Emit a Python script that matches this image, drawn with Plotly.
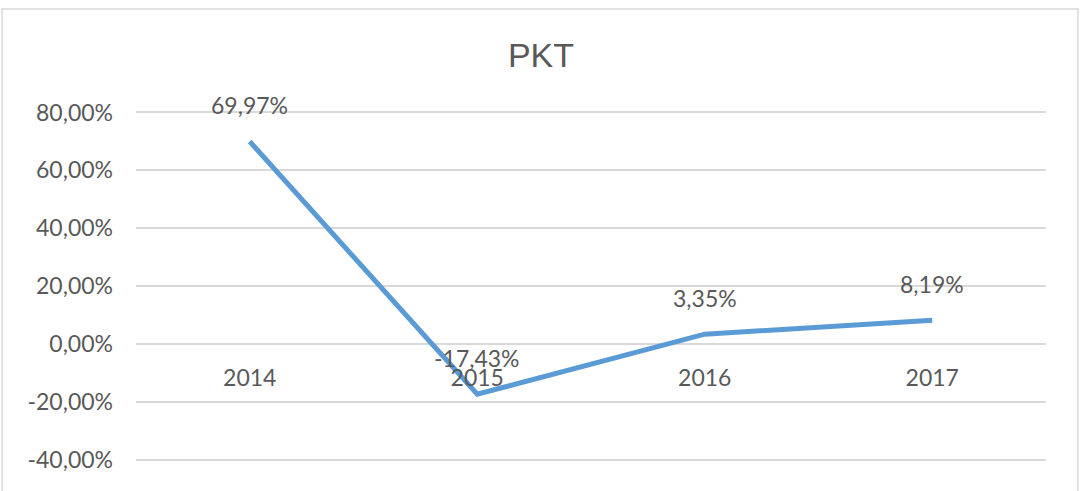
import plotly.graph_objects as go

categories = ["2014", "2015", "2016", "2017"]
values = [69.97, -17.43, 3.35, 8.19]
y_tickvals = [-40, -20, 0, 20, 40, 60, 80]
y_ticktext = ["-40,00%", "-20,00%", "0,00%", "20,00%", "40,00%", "60,00%", "80,00%"]
title_text = "PKT"

label_text = [f"{v:.2f}%".replace(".", ",") for v in values]

TXT = "#595959"
GRID = "#d9d9d9"
FONT = "Lato"

fig = go.Figure()
fig.add_trace(go.Scatter(
    x=categories, y=values, mode="lines",
    line=dict(color="#5b9bd5", width=5),
    hoverinfo="skip",
))

for i, (v, t) in enumerate(zip(values, label_text)):
    fig.add_annotation(x=i, y=v, xref="x", yref="y", text=t, showarrow=False,
                       yshift=36, font=dict(family=FONT, size=23, color=TXT))

fig.update_layout(
    width=1086, height=491,
    margin=dict(l=136, r=40, t=111, b=30),
    paper_bgcolor="white", plot_bgcolor="white",
    showlegend=False,
    title=dict(text=title_text, x=541 / 1086, xanchor="center",
               y=1 - 55 / 491, yanchor="middle",
               font=dict(family="Liberation Sans", size=34, color=TXT)),
    xaxis=dict(
        type="category", range=[-0.5, 3.5],
        anchor="free", position=0.5 / 121 + 40 / 121,
        showgrid=False, showline=False, zeroline=False,
        ticks="", ticklabelstandoff=18,
        tickfont=dict(family=FONT, size=23, color=TXT),
    ),
    yaxis=dict(
        range=[-40.5, 80.5], tickvals=y_tickvals, ticktext=y_ticktext,
        showgrid=True, gridcolor=GRID, gridwidth=1.5,
        zeroline=True, zerolinecolor=GRID, zerolinewidth=1.5,
        showline=False, ticks="", ticklabelstandoff=22,
        tickfont=dict(family=FONT, size=23, color=TXT),
    ),
    shapes=[dict(type="rect", xref="paper", yref="paper",
                 x0=-134 / 910, x1=(1078 - 136) / 910,
                 y0=(461 - 500) / 350, y1=(461 - 9) / 350,
                 line=dict(color="#d9d9d9", width=1.5), layer="below")],
)

fig.write_html("out.html")
